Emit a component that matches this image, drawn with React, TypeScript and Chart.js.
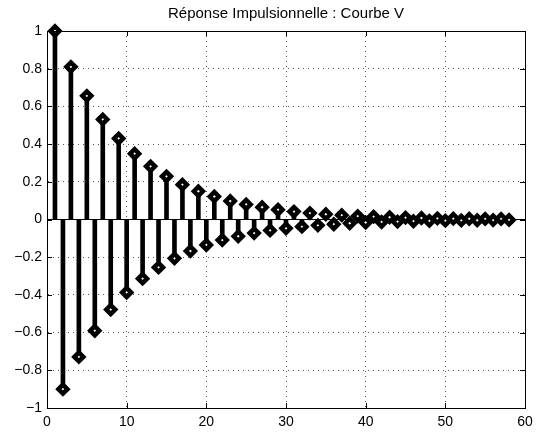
import React, { useEffect, useRef } from "react";
import { Chart, registerables } from "chart.js";

Chart.register(...registerables);

const TITLE = "Réponse Impulsionnelle : Courbe V";
const SAMPLE_INDEX = [
  1, 2, 3, 4, 5, 6, 7, 8, 9, 10, 11, 12, 13, 14, 15, 16, 17, 18, 19, 20,
  21, 22, 23, 24, 25, 26, 27, 28, 29, 30, 31, 32, 33, 34, 35, 36, 37, 38, 39, 40,
  41, 42, 43, 44, 45, 46, 47, 48, 49, 50, 51, 52, 53, 54, 55, 56, 57, 58,
];
const IMPULSE = [
  1, -0.9, 0.81, -0.729, 0.656, -0.59, 0.531, -0.478, 0.43, -0.387,
  0.349, -0.314, 0.282, -0.254, 0.229, -0.206, 0.185, -0.167, 0.15, -0.135,
  0.122, -0.109, 0.098, -0.089, 0.08, -0.072, 0.065, -0.058, 0.052, -0.047,
  0.042, -0.038, 0.034, -0.031, 0.028, -0.025, 0.023, -0.02, 0.018, -0.016,
  0.015, -0.013, 0.012, -0.011, 0.01, -0.009, 0.008, -0.007, 0.006, -0.006,
  0.005, -0.005, 0.004, -0.004, 0.003, -0.003, 0.003, -0.002,
];
const X_RANGE = [0, 60];
const Y_RANGE = [-1, 1];
const X_STEP = 10;
const Y_STEP = 0.2;

const FONT_FAMILY = "'Liberation Sans', Arial, Helvetica, sans-serif";

const fmtY = (v: number) => {
  if (Math.abs(v) < 1e-9) return "0";
  let s = v.toFixed(1);
  if (s.endsWith(".0")) s = s.slice(0, -2);
  return s.replace("-", "\u2212");
};

const boxPlugin = {
  id: "matlabBox",
  afterDraw(chart: any) {
    const { ctx, chartArea } = chart;
    const { left, right, top, bottom } = chartArea;
    const xs = chart.scales.x;
    const ys = chart.scales.y;
    ctx.save();
    ctx.strokeStyle = "#000";
    ctx.lineWidth = 1;
    ctx.strokeRect(Math.round(left) + 0.5, Math.round(top) + 0.5, Math.round(right - left), Math.round(bottom - top));
    const tl = 5;
    ctx.beginPath();
    xs.ticks.forEach((t: any) => {
      const px = Math.round(xs.getPixelForValue(t.value)) + 0.5;
      ctx.moveTo(px, bottom);
      ctx.lineTo(px, bottom - tl);
      ctx.moveTo(px, top);
      ctx.lineTo(px, top + tl);
    });
    ys.ticks.forEach((t: any) => {
      const py = Math.round(ys.getPixelForValue(t.value)) + 0.5;
      ctx.moveTo(left, py);
      ctx.lineTo(left + tl, py);
      ctx.moveTo(right, py);
      ctx.lineTo(right - tl, py);
    });
    ctx.stroke();
    ctx.fillStyle = "#000";
    ctx.font = `15px ${FONT_FAMILY}`;
    ctx.textAlign = "center";
    ctx.textBaseline = "middle";
    ctx.fillText(TITLE, (left + right) / 2, 14);
    ctx.restore();
  },
};

export default function App() {
  const ref = useRef<HTMLCanvasElement | null>(null);

  useEffect(() => {
    if (!ref.current) return;
    const points = SAMPLE_INDEX.map((x, i) => ({ x, y: IMPULSE[i] }));
    const chart = new Chart(ref.current, {
      type: "bar",
      data: {
        datasets: [
          {
            type: "scatter",
            data: points,
            pointStyle: "rectRot",
            pointRadius: 4.5,
            pointBorderWidth: 4.5,
            pointBackgroundColor: "#fff",
            pointBorderColor: "#000",
            clip: false,
            order: 0,
          } as any,
          {
            type: "line",
            data: [
              { x: X_RANGE[0], y: 0 },
              { x: X_RANGE[1], y: 0 },
            ],
            borderColor: "#000",
            borderWidth: 1,
            pointRadius: 0,
            order: 1,
          } as any,
          {
            type: "bar",
            data: points,
            backgroundColor: "#000",
            borderWidth: 0,
            barThickness: 4,
            grouped: false,
            order: 2,
          } as any,
        ],
      },
      options: {
        responsive: false,
        animation: false,
        events: [],
        layout: { padding: { top: 31, right: 22, left: 0, bottom: 0 } },
        plugins: {
          legend: { display: false },
          title: { display: false },
          tooltip: { enabled: false },
        },
        scales: {
          x: {
            type: "linear",
            min: X_RANGE[0],
            max: X_RANGE[1],
            offset: false,
            afterFit: (s: any) => {
              s.height = 26;
            },
            grid: {
              offset: false,
              color: "#555",
              lineWidth: 1,
              drawTicks: false,
            },
            border: { display: true, color: "#000", width: 1, dash: [1, 4] },
            ticks: {
              stepSize: X_STEP,
              padding: 6,
              color: "#000",
              maxRotation: 0,
              font: { size: 14, family: FONT_FAMILY },
            },
          },
          y: {
            type: "linear",
            min: Y_RANGE[0],
            max: Y_RANGE[1],
            afterFit: (s: any) => {
              s.width = 47;
            },
            grid: {
              color: "#555",
              lineWidth: 1,
              drawTicks: false,
            },
            border: { display: true, color: "#000", width: 1, dash: [1, 4] },
            ticks: {
              stepSize: Y_STEP,
              padding: 5,
              color: "#000",
              font: { size: 14, family: FONT_FAMILY },
              callback: (v: any) => fmtY(Number(v)),
            },
          },
        },
      } as any,
      plugins: [boxPlugin],
    });
    return () => chart.destroy();
  }, []);

  return (
    <div style={{ position: "absolute", left: 0, top: 0, width: 547, height: 434, background: "#fff" }}>
      <canvas ref={ref} width={547} height={434} />
    </div>
  );
}
